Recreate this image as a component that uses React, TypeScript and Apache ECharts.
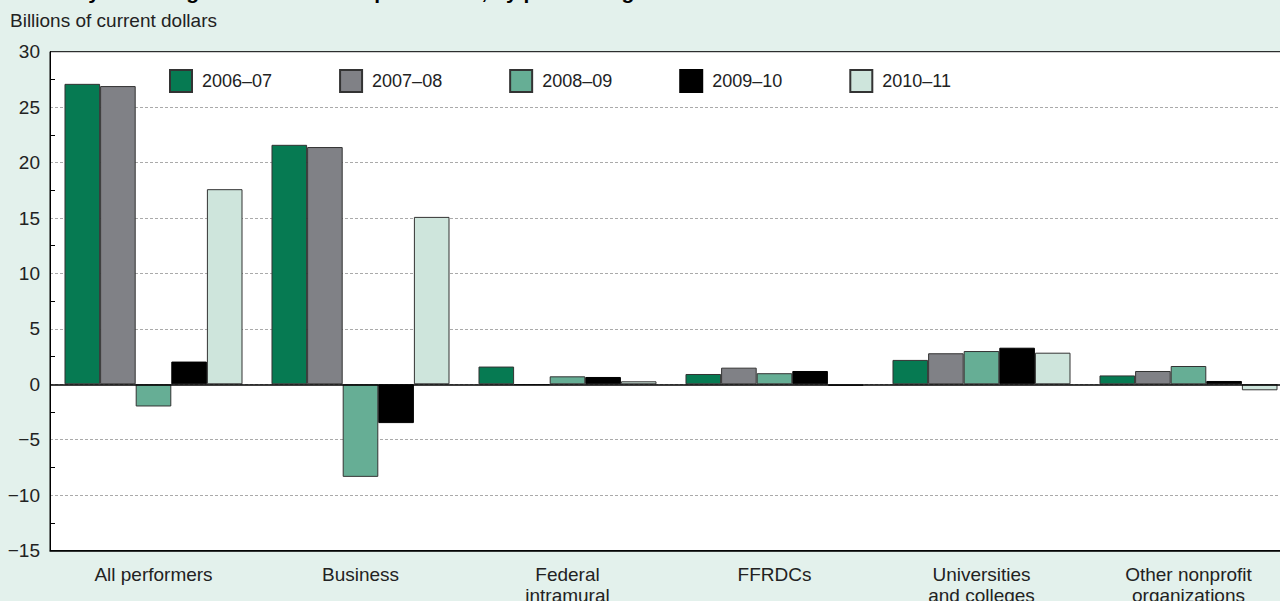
import React, { useEffect, useRef } from "react";
import * as echarts from "echarts";

const categories = [
  "All performers",
  "Business",
  "Federal\nintramural",
  "FFRDCs",
  "Universities\nand colleges",
  "Other nonprofit\norganizations",
];
const seriesNames = ["2006–07", "2007–08", "2008–09", "2009–10", "2010–11"];
const v0607 = [27.1, 21.6, 1.6, 0.93, 2.2, 0.8];
const v0708 = [26.9, 21.4, -0.05, 1.5, 2.8, 1.2];
const v0809 = [-2.0, -8.35, 0.72, 1.0, 3.0, 1.65];
const v0910 = [2.05, -3.5, 0.66, 1.2, 3.3, 0.3];
const v1011 = [17.6, 15.1, 0.27, -0.15, 2.85, -0.54];
const seriesValues = [v0607, v0708, v0809, v0910, v1011];
const colors = ["#067a52", "#808186", "#66ae95", "#000000", "#cee5dc"];
const yTicks = { min: -15, max: 30, interval: 5 };
const titleText = "Year-to-year changes in U.S. R&D expenditures, by performing sector: 2006–11";
const unitText = "Billions of current dollars";

const FONT = "'Liberation Sans', Arial, Helvetica, sans-serif";

export default function App() {
  const ref = useRef<HTMLDivElement>(null);
  useEffect(() => {
    if (!ref.current) return;
    const chart = echarts.init(ref.current, null, { renderer: "svg" });
    const series: any[] = seriesNames.map((name, i) => ({
      name,
      type: "bar",
      data: seriesValues[i],
      barGap: "0%",
      barCategoryGap: "14%",
      itemStyle: {
        color: colors[i],
        borderColor: i === 3 ? "#000" : "#333",
        borderWidth: 1,
      },
    }));
    series[0].markLine = {
      silent: true,
      symbol: "none",
      label: { show: false },
      lineStyle: { color: "#000", width: 1.5, type: "solid" },
      data: [{ yAxis: 0 }],
      z: 10,
    };
    chart.setOption({
      animation: false,
      backgroundColor: "#e3f1ec",
      textStyle: { fontFamily: FONT },
      graphic: [
        {
          type: "text",
          left: 10,
          y: -9,
          style: {
            text: titleText,
            font: `bold 21px ${FONT}`,
            fill: "#000",
            textVerticalAlign: "middle",
          },
        },
        {
          type: "text",
          x: 10,
          y: 20,
          style: {
            text: unitText,
            font: `19px ${FONT}`,
            fill: "#222",
            textVerticalAlign: "middle",
          },
        },
      ],
      legend: {
        left: 164,
        top: 64,
        padding: 5,
        itemWidth: 22,
        itemHeight: 22,
        itemGap: 67,
        icon: "rect",
        data: seriesNames,
        textStyle: { fontSize: 18, color: "#222", padding: [0, 0, 0, 5], fontFamily: FONT },
      },
      grid: {
        left: 50,
        right: -12,
        top: 51.7,
        bottom: 50.4,
        show: true,
        backgroundColor: "#ffffff",
        borderColor: "#000",
        borderWidth: 1,
        containLabel: false,
        outerBoundsMode: "none",
      },
      xAxis: {
        type: "category",
        data: categories,
        axisLine: { onZero: false, lineStyle: { color: "#000", width: 1.5 } },
        axisTick: { show: false },
        axisLabel: {
          fontSize: 19,
          color: "#222",
          margin: 13,
          lineHeight: 21,
          interval: 0,
          fontFamily: FONT,
        },
      },
      yAxis: {
        type: "value",
        min: yTicks.min,
        max: yTicks.max,
        interval: yTicks.interval,
        axisLine: { show: true, lineStyle: { color: "#000", width: 1 } },
        axisTick: { show: false, inside: true },
        minorTick: { show: true, splitNumber: 2, length: 5, lineStyle: { color: "#000", width: 1 } },
        axisLabel: {
          fontSize: 19,
          color: "#222",
          margin: 10,
          fontFamily: FONT,
          formatter: (v: number) => (v < 0 ? "\u2212" + Math.abs(v) : String(v)),
        },
        splitLine: {
          show: true,
          showMinLine: false,
          showMaxLine: false,
          lineStyle: { color: "#aaaaaa", width: 1, type: [3, 2] },
        },
      },
      series,
    });
    return () => chart.dispose();
  }, []);
  return (
    <div
      ref={ref}
      style={{ position: "fixed", left: 0, top: 0, width: 1280, height: 601 }}
    />
  );
}
